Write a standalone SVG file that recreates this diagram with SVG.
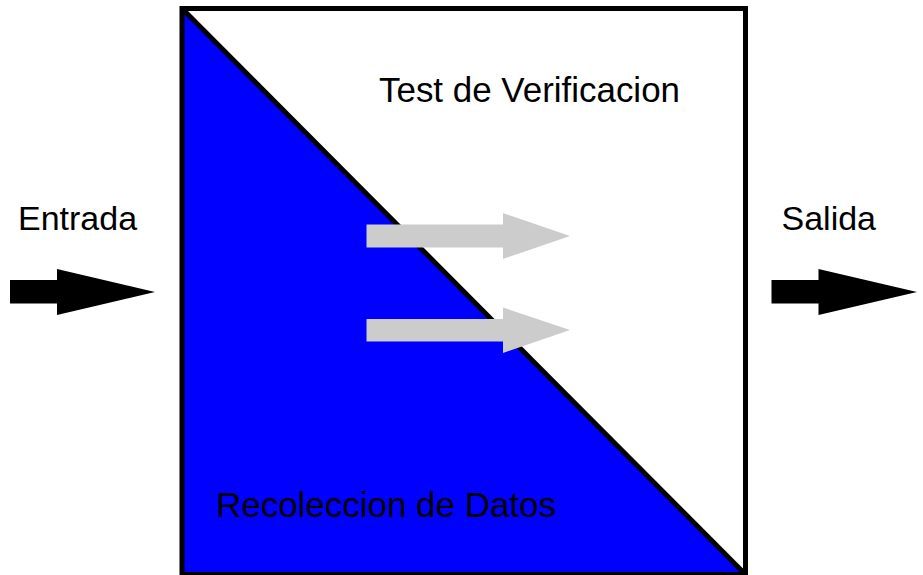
<svg xmlns="http://www.w3.org/2000/svg" width="923" height="575" viewBox="0 0 923 575">
<style>
.lbl{font-family:"Liberation Sans",Arial,sans-serif;font-size:34px;fill:#000}
.lbl2{font-family:"Liberation Sans",Arial,sans-serif;font-size:35px;fill:#000}
.big{fill:#000}
.inner{fill:#cccccc}
</style>
<rect width="923" height="575" fill="#fff"/>
<g id="box">
<rect x="182" y="8.5" width="563.5" height="566" fill="#fff"/>
<polygon points="182,8.5 745.5,574.5 182,574.5" fill="#0000ff"/>
<line x1="182" y1="8.5" x2="745.5" y2="574.5" stroke="#000" stroke-width="5"/>
<rect x="182" y="8.5" width="563.5" height="566" fill="none" stroke="#000" stroke-width="5"/>
<text class="lbl2" x="379" y="101.5" textLength="301" lengthAdjust="spacingAndGlyphs">Test de Verificacion</text>
<text class="lbl2" x="216" y="517" textLength="340" lengthAdjust="spacingAndGlyphs">Recoleccion de Datos</text>
</g>
<g id="entrada">
<text class="lbl" x="18" y="230">Entrada</text>
</g>
<g id="salida">
<text class="lbl" x="781.5" y="230">Salida</text>
</g>
<g id="connectors">
<polygon class="big" points="10,280 57,280 57,269 155,292 57,315 57,303.5 10,303.5"/>
<polygon class="big" points="771.5,280 818.5,280 818.5,269 917,292 818.5,315 818.5,303.5 771.5,303.5"/>
<polygon class="inner" points="366.5,224.5 503,224.5 503,213 570,236 503,259 503,247.5 366.5,247.5"/>
<polygon class="inner" points="366.5,319 503,319 503,307.5 570,330 503,353 503,341.5 366.5,341.5"/>
</g>
</svg>
